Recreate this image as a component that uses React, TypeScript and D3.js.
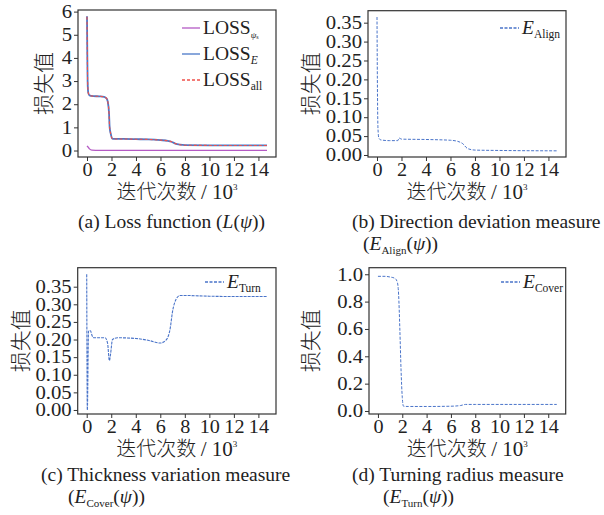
import React, { useEffect, useRef } from 'react';
import * as d3 from 'd3';

// iterations in thousands
const lossIter = [0, 0.02, 0.05, 0.1, 0.2, 0.5, 1.0, 1.4, 1.6, 1.7, 1.8, 1.85, 1.95, 2.05, 2.2, 3, 4, 5, 6, 6.6, 6.9, 7.2, 7.6, 8, 10, 12, 14.7];
const lossE = [5.8, 4.5, 3.0, 2.5, 2.38, 2.35, 2.34, 2.32, 2.25, 2.1, 1.6, 1.0, 0.7, 0.52, 0.5, 0.5, 0.49, 0.48, 0.45, 0.42, 0.38, 0.3, 0.25, 0.23, 0.22, 0.22, 0.22];
const lossAll = [5.78, 4.5, 3.0, 2.5, 2.38, 2.35, 2.34, 2.32, 2.25, 2.1, 1.6, 1.0, 0.7, 0.52, 0.5, 0.5, 0.49, 0.48, 0.45, 0.42, 0.38, 0.3, 0.25, 0.23, 0.22, 0.22, 0.22];
const psiIter = [0, 0.1, 0.2, 0.4, 1, 2, 5, 10, 14.7];
const lossPsi = [0.2, 0.14, 0.07, 0.02, 0.01, 0.01, 0.01, 0.01, 0.01];

const alignIter = [0, 0.03, 0.08, 0.15, 0.3, 1.0, 1.7, 1.8, 2.0, 4, 6, 6.6, 7.0, 7.4, 8, 10, 14.7];
const eAlign = [0.365, 0.2, 0.07, 0.045, 0.04, 0.038, 0.038, 0.045, 0.042, 0.041, 0.039, 0.036, 0.03, 0.017, 0.013, 0.012, 0.011];

const turnIter = [0, 0.05, 0.15, 0.3, 0.45, 0.6, 1.5, 1.7, 1.85, 1.95, 2.1, 2.5, 4, 5, 6, 6.5, 6.8, 7.0, 7.3, 7.6, 8, 10, 12, 14.7];
const eTurn = [0.385, 0.0, 0.225, 0.225, 0.21, 0.205, 0.205, 0.19, 0.14, 0.16, 0.2, 0.205, 0.203, 0.198, 0.19, 0.2, 0.23, 0.28, 0.315, 0.325, 0.325, 0.323, 0.322, 0.322];

const coverIter = [0, 0.5, 1.0, 1.4, 1.6, 1.7, 1.8, 1.9, 2.0, 2.1, 2.5, 4, 6, 6.8, 7.2, 8, 10, 14.7];
const eCover = [0.985, 0.985, 0.98, 0.97, 0.94, 0.85, 0.6, 0.3, 0.1, 0.035, 0.033, 0.033, 0.035, 0.04, 0.048, 0.048, 0.048, 0.048];

const xTicks = [0, 2, 4, 6, 8, 10, 12, 14];
const ticksA = [0, 1, 2, 3, 4, 5, 6];
const ticksSmall = [0, 0.05, 0.1, 0.15, 0.2, 0.25, 0.3, 0.35];
const ticksD = [0, 0.2, 0.4, 0.6, 0.8, 1.0];

const SERIF = '"Liberation Serif", "Times New Roman", serif';
const CJK = '"Noto Sans CJK SC", sans-serif';
const BLUE = '#4a74c9';

const panels = [
  {
    box: [78, 276, 10, 157], yDomain: [-0.28, 6.07], yTicks: ticksA, fmt: d3.format('d'), yLabelX: 44,
    series: [
      { xs: psiIter, ys: lossPsi, color: '#b45ac4', dash: null, w: 1.3 },
      { xs: lossIter, ys: lossE, color: '#4a78c8', dash: null, w: 1.8 },
      { xs: lossIter, ys: lossAll, color: '#f0504a', dash: '3,2', w: 1.1 },
    ],
    legend: [
      { y: 28, color: '#b45ac4', dash: null, main: 'LOSS', sub: 'ψ', sub2: 's', italicMain: false, italicSub: true },
      { y: 54, color: '#4a78c8', dash: null, main: 'LOSS', sub: 'E', italicMain: false, italicSub: true },
      { y: 80, color: '#f0504a', dash: '3,2', main: 'LOSS', sub: 'all', italicMain: false, italicSub: false },
    ],
    legendX: [182, 200],
    caption: [{ x: 78, y: 228, parts: [['(a) Loss function (', ''], ['L', 'i'], ['(', ''], ['ψ', 'i'], ['))', '']] }],
  },
  {
    box: [368, 566, 10.7, 157], yDomain: [-0.0053, 0.3817], yTicks: ticksSmall, fmt: d3.format('.2f'), yLabelX: 311,
    series: [{ xs: alignIter, ys: eAlign, color: BLUE, dash: '3,1.5', w: 1 }],
    legend: [{ y: 28, color: BLUE, dash: '3,1.5', main: 'E', sub: 'Align', italicMain: true, italicSub: false }],
    legendX: [500, 519],
    caption: [
      { x: 352, y: 228, parts: [['(b) Direction deviation measure', '']] },
      { x: 363, y: 250, parts: [['(', ''], ['E', 'i'], ['Align', 's'], ['(', ''], ['ψ', 'i'], ['))', '']] },
    ],
  },
  {
    box: [77.7, 276, 267.7, 414], yDomain: [-0.0114, 0.4039], yTicks: ticksSmall, fmt: d3.format('.2f'), yLabelX: 21,
    series: [{ xs: turnIter, ys: eTurn, color: BLUE, dash: '3,1', w: 1.1 }],
    legend: [{ y: 282, color: BLUE, dash: '3,1.5', main: 'E', sub: 'Turn', italicMain: true, italicSub: false }],
    legendX: [205, 224],
    caption: [
      { x: 41, y: 481, parts: [['(c) Thickness variation measure', '']] },
      { x: 68, y: 503, parts: [['(', ''], ['E', 'i'], ['Cover', 's'], ['(', ''], ['ψ', 'i'], ['))', '']] },
    ],
  },
  {
    box: [369, 565.7, 267.7, 414], yDomain: [-0.022, 1.048], yTicks: ticksD, fmt: d3.format('.1f'), yLabelX: 311,
    series: [{ xs: coverIter, ys: eCover, color: BLUE, dash: '3,1.5', w: 1 }],
    legend: [{ y: 282, color: BLUE, dash: '3,1.5', main: 'E', sub: 'Cover', italicMain: true, italicSub: false }],
    legendX: [501, 520],
    caption: [
      { x: 352, y: 481, parts: [['(d) Turning radius measure', '']] },
      { x: 383, y: 503, parts: [['(', ''], ['E', 'i'], ['Turn', 's'], ['(', ''], ['ψ', 'i'], ['))', '']] },
    ],
  },
];

// the source figure is a bit wider than plain Times, so stretch glyphs a little
const stretch = (sel, k) => {
  sel.each(function () {
    const w = this.getComputedTextLength();
    d3.select(this).attr('textLength', w * k).attr('lengthAdjust', 'spacingAndGlyphs');
  });
};

export default function App() {
  const ref = useRef<SVGSVGElement>(null);

  useEffect(() => {
    const svg = d3.select(ref.current);
    svg.selectAll('*').remove();

    panels.forEach(p => {
      const [x0, x1, y0, y1] = p.box;
      const x = d3.scaleLinear().domain([-0.735, 15.435]).range([x0, x1]);
      const y = d3.scaleLinear().domain(p.yDomain).range([y1, y0]);
      const g = svg.append('g');

      // axes
      const xAxis = d3.axisBottom(x).tickValues(xTicks).tickSize(4).tickPadding(2).tickFormat(d3.format('d'));
      const yAxis = d3.axisLeft(y).tickValues(p.yTicks).tickSize(4).tickPadding(2).tickFormat(p.fmt);
      const xg = g.append('g').attr('transform', `translate(0,${y1})`).call(xAxis);
      const yg = g.append('g').attr('transform', `translate(${x0},0)`).call(yAxis);
      [xg, yg].forEach(a => {
        a.select('.domain').remove();
        a.selectAll('line').attr('stroke', '#333').attr('stroke-width', 1);
        a.selectAll('text').attr('font-family', SERIF).attr('font-size', 18).attr('fill', '#222');
      });
      stretch(xg.selectAll('text'), 1.12);
      stretch(yg.selectAll('text'), 1.15);

      // lines
      const clipId = `clip${x0}${y0}`.replace(/\./g, '');
      g.append('clipPath').attr('id', clipId).append('rect')
        .attr('x', x0).attr('y', y0).attr('width', x1 - x0).attr('height', y1 - y0);
      p.series.forEach(s => {
        const line = d3.line<number>().x((d, i) => x(s.xs[i])).y(d => y(d)).curve(d3.curveMonotoneX);
        g.append('path').attr('d', line(s.ys)).attr('fill', 'none')
          .attr('stroke', s.color).attr('stroke-width', s.w)
          .attr('stroke-dasharray', s.dash)
          .attr('clip-path', `url(#${clipId})`);
      });

      // frame
      g.append('rect').attr('x', x0).attr('y', y0).attr('width', x1 - x0).attr('height', y1 - y0)
        .attr('fill', 'none').attr('stroke', '#333').attr('stroke-width', 1.2);

      // legend
      p.legend.forEach(l => {
        g.append('line').attr('x1', p.legendX[0]).attr('x2', p.legendX[1]).attr('y1', l.y).attr('y2', l.y)
          .attr('stroke', l.color).attr('stroke-width', 1.3).attr('stroke-dasharray', l.dash);
        const t = g.append('text').attr('x', p.legendX[1] + 3).attr('y', l.y + 6)
          .attr('font-family', SERIF).attr('font-size', 19.5).attr('fill', '#222');
        t.append('tspan').text(l.main).attr('font-style', l.italicMain ? 'italic' : 'normal');
        t.append('tspan').text(l.sub).attr('font-size', l.sub2 ? 9 : 11.5).attr('dy', 4)
          .attr('font-style', l.italicSub ? 'italic' : 'normal');
        if (l.sub2) t.append('tspan').text(l.sub2).attr('font-size', 6).attr('dy', 1);
      });

      // axis titles
      g.append('text').attr('transform', `translate(${p.yLabelX},${(y0 + y1) / 2}) rotate(-90)`)
        .attr('text-anchor', 'middle').attr('dy', '0.35em')
        .attr('font-family', CJK).attr('font-size', 21).attr('font-weight', 300).attr('fill', '#222')
        .text('损失值');
      const xt = g.append('text').attr('x', (x0 + x1) / 2).attr('y', y1 + 42)
        .attr('text-anchor', 'middle').attr('font-family', CJK).attr('font-size', 20)
        .attr('font-weight', 300).attr('fill', '#222');
      xt.append('tspan').text('迭代次数 ');
      xt.append('tspan').text('/ 10').attr('font-family', SERIF).attr('font-size', 21);
      xt.append('tspan').text('3').attr('font-family', SERIF).attr('font-size', 9).attr('dy', -9);

      // captions
      p.caption.forEach(c => {
        const t = g.append('text').attr('x', c.x).attr('y', c.y)
          .attr('font-family', SERIF).attr('font-size', 19.5).attr('fill', '#222');
        let shifted = false;
        c.parts.forEach(([txt, st]) => {
          const ts = t.append('tspan').text(txt);
          if (st === 'i') ts.attr('font-style', 'italic');
          if (st === 's') { ts.attr('font-size', 11).attr('dy', 4); shifted = true; }
          else if (shifted) { ts.attr('dy', -4); shifted = false; }
        });
      });
    });
  }, []);

  return (
    <svg ref={ref} width={604} height={515} style={{ position: 'absolute', left: 0, top: 0, background: '#fff' }} />
  );
}
